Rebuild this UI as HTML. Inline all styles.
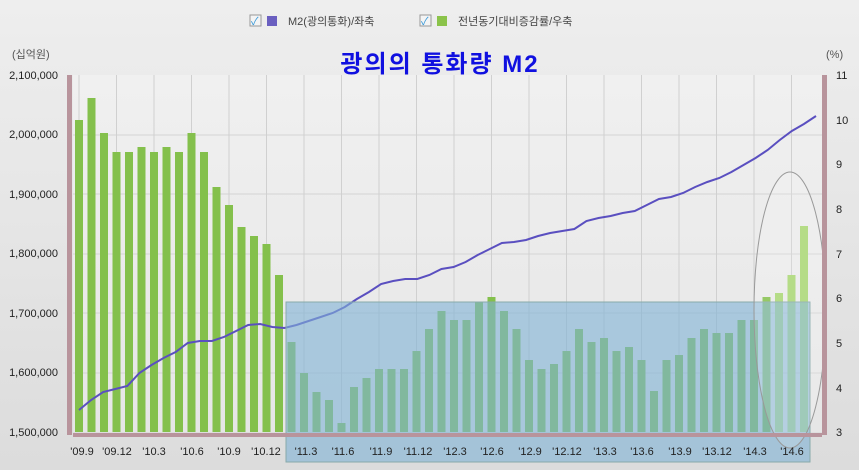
<!DOCTYPE html>
<html><head><meta charset="utf-8">
<style>
html,body{margin:0;padding:0;width:859px;height:470px;overflow:hidden;background:#e4e4e4;}
text{font-family:"Liberation Sans","Noto Sans CJK KR",sans-serif;}
</style></head><body>
<svg id="s" width="859" height="470" xmlns="http://www.w3.org/2000/svg">
<defs>
<linearGradient id="bg" x1="0" y1="0" x2="0" y2="1"><stop offset="0" stop-color="#eeeeee"/><stop offset="1" stop-color="#dcdcdc"/></linearGradient>
<linearGradient id="pa" x1="0" y1="0" x2="0" y2="1"><stop offset="0" stop-color="#f0f0f0"/><stop offset="1" stop-color="#e6e6e6"/></linearGradient>
</defs>
<rect width="859" height="470" fill="url(#bg)"/>
<rect x="73" y="75" width="749" height="357" fill="url(#pa)"/>
<g id="grid"></g>
<g id="bars"></g>
<polyline id="line" fill="none" stroke="#5a4fc0" stroke-width="2"/>
<rect x="286" y="302" width="524" height="160" fill="#7fb3d6" fill-opacity="0.6" stroke="#8aa" stroke-width="1"/>
<ellipse cx="790" cy="310" rx="36" ry="138" fill="#fff" fill-opacity="0.15" stroke="#999" stroke-width="1"/>
<rect x="67" y="75" width="5" height="360" fill="#b8949c"/>
<rect x="822" y="75" width="5" height="360" fill="#b8949c"/>
<rect x="73" y="433" width="749" height="4" fill="#b8949c"/>
<g font-size="11" fill="#222" text-anchor="end">
<text x="58" y="79">2,100,000</text>
<text x="58" y="138">2,000,000</text>
<text x="58" y="198">1,900,000</text>
<text x="58" y="257">1,800,000</text>
<text x="58" y="317">1,700,000</text>
<text x="58" y="376">1,600,000</text>
<text x="58" y="436">1,500,000</text>
</g>
<g font-size="11" fill="#222">
<text x="836" y="79">11</text><text x="836" y="124">10</text><text x="836" y="168">9</text><text x="836" y="213">8</text><text x="836" y="258">7</text><text x="836" y="302">6</text><text x="836" y="347">5</text><text x="836" y="392">4</text><text x="836" y="436">3</text>
</g>
<text x="12" y="58" font-size="11" fill="#555">(십억원)</text>
<text x="826" y="58" font-size="11" fill="#555">(%)</text>
<g font-size="11" fill="#222" text-anchor="middle">
<text x="82" y="455">'09.9</text><text x="117" y="455">'09.12</text><text x="154" y="455">'10.3</text><text x="192" y="455">'10.6</text><text x="229" y="455">'10.9</text><text x="266" y="455">'10.12</text><text x="306" y="455">'11.3</text><text x="343" y="455">'11.6</text><text x="381" y="455">'11.9</text><text x="418" y="455">'11.12</text><text x="455" y="455">'12.3</text><text x="492" y="455">'12.6</text><text x="530" y="455">'12.9</text><text x="567" y="455">'12.12</text><text x="605" y="455">'13.3</text><text x="642" y="455">'13.6</text><text x="680" y="455">'13.9</text><text x="717" y="455">'13.12</text><text x="755" y="455">'14.3</text><text x="792" y="455">'14.6</text>
</g>
<text x="440" y="72" font-size="24" font-weight="bold" fill="#1010e0" text-anchor="middle" letter-spacing="2" font-family="'Liberation Serif','Noto Serif CJK SC',serif">광의의 통화량 M2</text>
<g font-size="11" fill="#444">
<rect x="250" y="15" width="11" height="11" fill="#f4f4f4" stroke="#999"/><text x="251" y="25" fill="#3a9ad9">✓</text>
<rect x="267" y="16" width="10" height="10" fill="#6a5fc0"/>
<text x="288" y="25">M2(광의통화)/좌축</text>
<rect x="420" y="15" width="11" height="11" fill="#f4f4f4" stroke="#999"/><text x="421" y="25" fill="#3a9ad9">✓</text>
<rect x="437" y="16" width="10" height="10" fill="#8bc34a"/>
<text x="458" y="25">전년동기대비증감률/우축</text>
</g>
</svg>
<script>
var ns="http://www.w3.org/2000/svg",s=document.getElementById('s');
var g=document.getElementById('grid');
[135,194,254,313,373].forEach(function(y){var l=document.createElementNS(ns,'line');l.setAttribute('x1',73);l.setAttribute('x2',822);l.setAttribute('y1',y);l.setAttribute('y2',y);l.setAttribute('stroke','#d4d4d4');g.appendChild(l);});
for(var i=0;i<20;i++){var x=79+i*37.5;var l=document.createElementNS(ns,'line');l.setAttribute('x1',x);l.setAttribute('x2',x);l.setAttribute('y1',75);l.setAttribute('y2',432);l.setAttribute('stroke','#d0d0d0');g.appendChild(l);}
var tops=[120,98,133,152,152,147,152,147,152,133,152,187,205,227,236,244,275,342,373,392,400,423,387,378,369,369,369,351,329,311,320,320,302,297,311,329,360,369,364,351,329,342,338,351,347,360,391,360,355,338,329,333,333,320,320,297,293,275,226];
var b=document.getElementById('bars');
tops.forEach(function(t,i){var r=document.createElementNS(ns,'rect');var x=79+i*12.5;r.setAttribute('x',x-4);r.setAttribute('width',8);r.setAttribute('y',t);r.setAttribute('height',432-t);r.setAttribute('fill',i>=56?'#a8d672':'#84c04c');b.appendChild(r);});
var anc=[[0,410],[1,400],[2,392],[3,389],[4,386],[5,373],[6,365],[7,358],[8,352],[9,343],[10,341],[11,341],[12,337],[13,331],[14,325],[15,324],[16,327],[17,328],[18,325],[19,321],[20,317],[21,313],[22,307],[23,299],[24,292],[25,284],[26,281],[27,279],[28,279],[29,275],[30,269],[31,267],[32,262],[33,255],[34,249],[35,243],[36,242],[37,240],[38,236],[39,233],[40,231],[41,229],[42,221],[43,218],[44,216],[45,213],[46,211],[47,205],[48,199],[49,197],[50,193],[51,187],[52,182],[53,178],[54,172],[55,165],[56,158],[57,150],[58,140],[59,131],[60,124],[61,116]];
var pts=[];
anc.forEach(function(a){var x=79+a[0]*737/61;pts.push(x+','+a[1]);});
document.getElementById('line').setAttribute('points',pts.join(' '));
</script>
</body></html>
